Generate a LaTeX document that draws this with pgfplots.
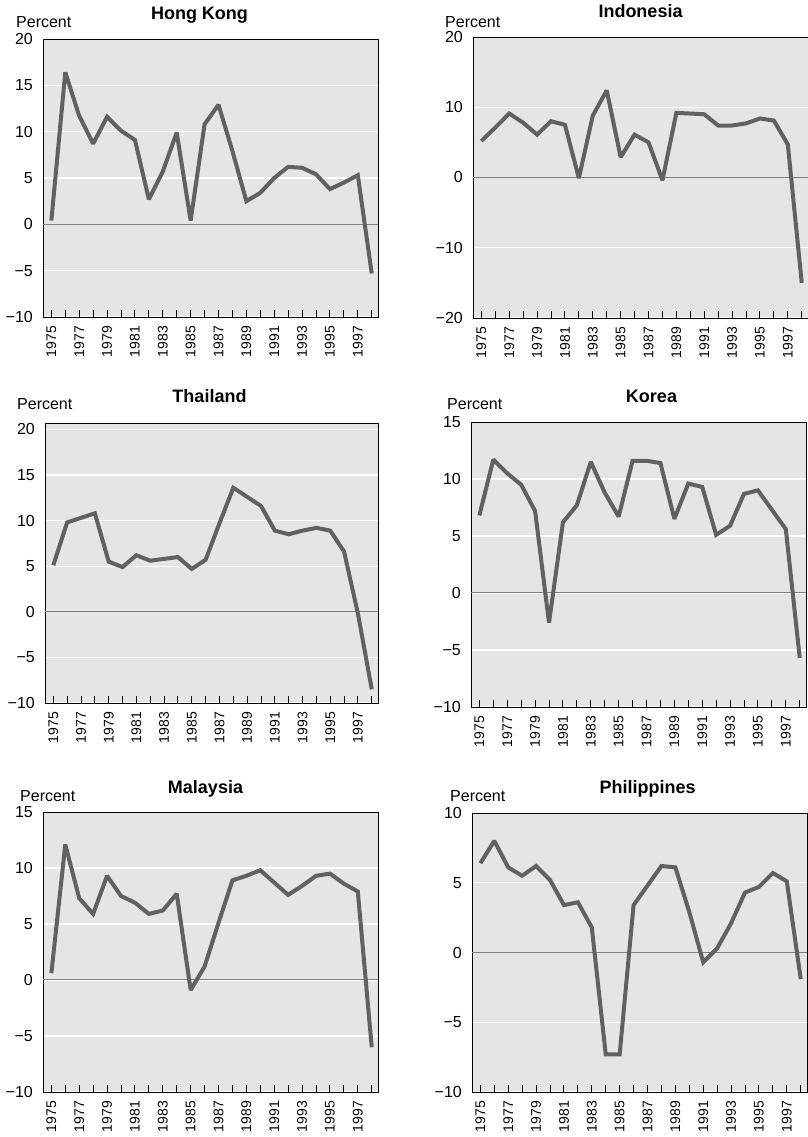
\documentclass[border=0pt]{standalone}
\usepackage{fontspec}
\setmainfont{Liberation Sans}
\usepackage{pgfplots}
\pgfplotsset{compat=1.18}

\definecolor{panelbg}{gray}{0.9}
\definecolor{series}{gray}{0.38}

\pgfplotsset{
  panel/.style={
    scale only axis,
    width=335pt,
    anchor=south west,
    xmin=1974.4, xmax=1998.45,
    axis background/.style={fill=panelbg},
    axis line style={black, line width=0.9pt},
    xtick={1975,...,1998},
    xticklabels={1975,,1977,,1979,,1981,,1983,,1985,,1987,,1989,,1991,,1993,,1995,,1997,},
    tick pos=left,
    tick align=inside,
    major tick length=7pt,
    xtick style={black, line width=0.9pt},
    ytick style={draw=none},
    xticklabel shift=9pt,
    xticklabel style={rotate=90, anchor=east, inner sep=0pt,
      font=\fontsize{14}{14}\selectfont},
    yticklabel style={anchor=east, inner sep=0pt, xshift=-10pt,
      font=\fontsize{16}{17}\selectfont},
    ymajorgrids,
    grid style={white, line width=1.2pt},
    extra y ticks={0},
    extra y tick labels={},
    extra y tick style={grid style={draw=gray, line width=1pt}},
  },
  series/.style={draw=series, line width=4pt, line join=miter, miter limit=2, mark=none},
}
\tikzset{
  ttl/.style={anchor=base, inner sep=0pt, font=\fontsize{18}{18}\selectfont\bfseries},
  pct/.style={anchor=base west, inner sep=0pt, font=\fontsize{16}{17}\selectfont},
}

\begin{document}
\begin{tikzpicture}

% Hong Kong
\begin{axis}[panel, name=hk, at={(43pt,820pt)}, height=278pt,
  ymin=-10, ymax=20, ytick={-10,-5,...,20},
  yticklabels={−10,−5,0,5,10,15,20}]
\addplot[series] coordinates {
(1975,0.4) (1976,16.4) (1977,11.7) (1978,8.7) (1979,11.6) (1980,10.1)
(1981,9.1) (1982,2.7) (1983,5.7) (1984,9.9) (1985,0.4) (1986,10.8)
(1987,12.9) (1988,7.9) (1989,2.5) (1990,3.4) (1991,5.0) (1992,6.2)
(1993,6.1) (1994,5.4) (1995,3.8) (1996,4.5) (1997,5.3) (1998,-5.3)};
\end{axis}
\path (hk.north) ++(-11pt,19.5pt) node[ttl] {Hong Kong};
\path (hk.north west) ++(-27pt,11pt) node[pct] {Percent};

% Indonesia
\begin{axis}[panel, name=id, at={(473pt,819pt)}, height=281pt,
  ymin=-20, ymax=20, ytick={-20,-10,...,20},
  yticklabels={−20,−10,0,10,20}]
\addplot[series] coordinates {
(1975,5.2) (1976,7.1) (1977,9.1) (1978,7.8) (1979,6.1) (1980,8.0)
(1981,7.5) (1982,-0.1) (1983,8.8) (1984,12.4) (1985,2.9) (1986,6.1)
(1987,5.0) (1988,-0.4) (1989,9.2) (1990,9.1) (1991,9.0) (1992,7.4)
(1993,7.4) (1994,7.7) (1995,8.4) (1996,8.1) (1997,4.7) (1998,-15.0)};
\end{axis}
\path (id.north) ++(0pt,19pt) node[ttl] {Indonesia};
\path (id.north west) ++(-28pt,9pt) node[pct] {Percent};

% Thailand
\begin{axis}[panel, name=th, at={(45pt,434pt)}, height=280pt, width=333pt,
  ymin=-10, ymax=20.7, ytick={-10,-5,...,20},
  yticklabels={−10,−5,0,5,10,15,20}]
\addplot[series] coordinates {
(1975,5.1) (1976,9.8) (1977,10.3) (1978,10.8) (1979,5.5) (1980,4.9)
(1981,6.2) (1982,5.6) (1983,5.8) (1984,6.0) (1985,4.7) (1986,5.7)
(1987,9.7) (1988,13.6) (1989,12.6) (1990,11.6) (1991,8.9) (1992,8.5)
(1993,8.9) (1994,9.2) (1995,8.9) (1996,6.6) (1997,-0.2) (1998,-8.5)};
\end{axis}
\path (th.north) ++(-2pt,20pt) node[ttl] {Thailand};
\path (th.north west) ++(-28pt,13pt) node[pct] {Percent};

% Korea
\begin{axis}[panel, name=kr, at={(471pt,430pt)}, height=285pt,
  ymin=-10, ymax=15, ytick={-10,-5,...,15},
  yticklabels={−10,−5,0,5,10,15}]
\addplot[series] coordinates {
(1975,6.8) (1976,11.7) (1977,10.5) (1978,9.5) (1979,7.2) (1980,-2.6)
(1981,6.2) (1982,7.7) (1983,11.5) (1984,8.8) (1985,6.7) (1986,11.6)
(1987,11.6) (1988,11.4) (1989,6.5) (1990,9.6) (1991,9.3) (1992,5.1)
(1993,5.9) (1994,8.7) (1995,9.0) (1996,7.3) (1997,5.6) (1998,-5.7)};
\end{axis}
\path (kr.north) ++(13pt,19pt) node[ttl] {Korea};
\path (kr.north west) ++(-24pt,12pt) node[pct] {Percent};

% Malaysia
\begin{axis}[panel, name=my, at={(43pt,45pt)}, height=280pt,
  ymin=-10, ymax=15, ytick={-10,-5,...,15},
  yticklabels={−10,−5,0,5,10,15}]
\addplot[series] coordinates {
(1975,0.6) (1976,12.1) (1977,7.3) (1978,5.9) (1979,9.3) (1980,7.5)
(1981,6.9) (1982,5.9) (1983,6.2) (1984,7.7) (1985,-0.9) (1986,1.2)
(1987,5.1) (1988,8.9) (1989,9.3) (1990,9.8) (1991,8.7) (1992,7.6)
(1993,8.4) (1994,9.3) (1995,9.5) (1996,8.6) (1997,7.9) (1998,-6.0)};
\end{axis}
\path (my.north) ++(-5pt,18pt) node[ttl] {Malaysia};
\path (my.north west) ++(-23pt,10pt) node[pct] {Percent};

% Philippines
\begin{axis}[panel, name=ph, at={(472pt,45pt)}, height=279pt,
  ymin=-10, ymax=10, ytick={-10,-5,...,10},
  yticklabels={−10,−5,0,5,10}]
\addplot[series] coordinates {
(1975,6.4) (1976,8.0) (1977,6.1) (1978,5.5) (1979,6.2) (1980,5.2)
(1981,3.4) (1982,3.6) (1983,1.8) (1984,-7.3) (1985,-7.3) (1986,3.4)
(1987,4.8) (1988,6.2) (1989,6.1) (1990,2.9) (1991,-0.7) (1992,0.3)
(1993,2.1) (1994,4.3) (1995,4.7) (1996,5.7) (1997,5.1) (1998,-1.9)};
\end{axis}
\path (ph.north) ++(8pt,19pt) node[ttl] {Philippines};
\path (ph.north west) ++(-22pt,11pt) node[pct] {Percent};

\pgfresetboundingbox
\useasboundingbox (0pt,0pt) rectangle (807pt,1137pt);
\end{tikzpicture}
\end{document}
